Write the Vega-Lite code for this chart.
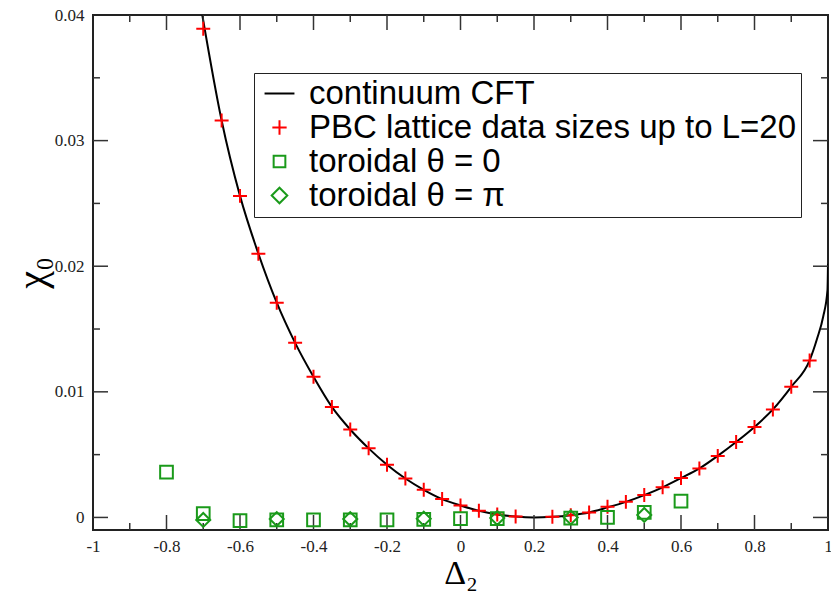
{
  "$schema": "https://vega.github.io/schema/vega-lite/v6.json",
  "width": 735,
  "height": 515,
  "autosize": {"type": "none"},
  "padding": {"left": 93, "top": 15, "right": 3, "bottom": 68},
  "background": "white",
  "config": {
    "view": {"stroke": "#222", "strokeWidth": 2},
    "axis": {
      "domain": false, "ticks": false, "grid": false,
      "labelFont": "Liberation Serif", "labelFontSize": 17, "labelColor": "#222",
      "titleFont": "Liberation Serif", "titleFontWeight": "normal", "titleColor": "#000",
      "labelFlush": false, "labelOverlap": false
    },
    "legend": {
      "orient": "none", "legendX": 161, "legendY": 58,
      "strokeColor": "#222", "fillColor": "white", "padding": 4,
      "labelFont": "Liberation Sans", "labelFontSize": 33, "labelColor": "#000",
      "symbolSize": 676, "symbolStrokeWidth": 2, "rowPadding": -3, "labelOffset": 13,
      "symbolOffset": 5, "labelLimit": 0
    }
  },
  "datasets": {
    "xmajor": [{"v": -0.8}, {"v": -0.6}, {"v": -0.4}, {"v": -0.2}, {"v": 0}, {"v": 0.2}, {"v": 0.4}, {"v": 0.6}, {"v": 0.8}],
    "xminor": [{"v": -0.9}, {"v": -0.7}, {"v": -0.5}, {"v": -0.3}, {"v": -0.1}, {"v": 0.1}, {"v": 0.3}, {"v": 0.5}, {"v": 0.7}, {"v": 0.9}],
    "ymajor": [{"v": 0}, {"v": 0.01}, {"v": 0.02}, {"v": 0.03}],
    "yminor": [{"v": 0.005}, {"v": 0.015}, {"v": 0.025}, {"v": 0.035}],
    "curve": [
      {"d": -0.7026, "chi": 0.0400}, {"d": -0.65, "chi": 0.0316},
      {"d": -0.60, "chi": 0.0256}, {"d": -0.55, "chi": 0.0210}, {"d": -0.50, "chi": 0.0171},
      {"d": -0.45, "chi": 0.0139}, {"d": -0.40, "chi": 0.0112}, {"d": -0.35, "chi": 0.0088},
      {"d": -0.30, "chi": 0.0070}, {"d": -0.25, "chi": 0.0055}, {"d": -0.20, "chi": 0.0042},
      {"d": -0.15, "chi": 0.0031}, {"d": -0.10, "chi": 0.0022}, {"d": -0.05, "chi": 0.00146},
      {"d": 0.00, "chi": 0.00095}, {"d": 0.05, "chi": 0.00053}, {"d": 0.10, "chi": 0.00024},
      {"d": 0.15, "chi": 0.00007}, {"d": 0.20, "chi": 0.0}, {"d": 0.25, "chi": 0.00005},
      {"d": 0.30, "chi": 0.00018}, {"d": 0.35, "chi": 0.00040}, {"d": 0.40, "chi": 0.00080},
      {"d": 0.45, "chi": 0.00124}, {"d": 0.50, "chi": 0.00178}, {"d": 0.55, "chi": 0.00240},
      {"d": 0.60, "chi": 0.00313}, {"d": 0.65, "chi": 0.0039}, {"d": 0.70, "chi": 0.0049},
      {"d": 0.75, "chi": 0.0060}, {"d": 0.80, "chi": 0.0072}, {"d": 0.85, "chi": 0.0086},
      {"d": 0.90, "chi": 0.0104}, {"d": 0.95, "chi": 0.0125}, {"d": 0.97, "chi": 0.0142},
      {"d": 0.987, "chi": 0.0160}, {"d": 0.9986, "chi": 0.0181}, {"d": 1.0, "chi": 0.0202}
    ],
    "lattice": [
      {"d": -0.70, "chi": 0.0389}, {"d": -0.65, "chi": 0.0316}, {"d": -0.60, "chi": 0.0256},
      {"d": -0.55, "chi": 0.0210}, {"d": -0.50, "chi": 0.0171}, {"d": -0.45, "chi": 0.0139},
      {"d": -0.40, "chi": 0.0112}, {"d": -0.35, "chi": 0.0088}, {"d": -0.30, "chi": 0.0070},
      {"d": -0.25, "chi": 0.0055}, {"d": -0.20, "chi": 0.0042}, {"d": -0.15, "chi": 0.0031},
      {"d": -0.10, "chi": 0.0022}, {"d": -0.05, "chi": 0.00146}, {"d": 0.00, "chi": 0.00095},
      {"d": 0.05, "chi": 0.00053}, {"d": 0.10, "chi": 0.00024}, {"d": 0.15, "chi": 0.00007},
      {"d": 0.25, "chi": 0.00005}, {"d": 0.30, "chi": 0.00018}, {"d": 0.35, "chi": 0.00040},
      {"d": 0.40, "chi": 0.00085}, {"d": 0.45, "chi": 0.00124}, {"d": 0.50, "chi": 0.00178},
      {"d": 0.55, "chi": 0.00240}, {"d": 0.60, "chi": 0.00313}, {"d": 0.65, "chi": 0.0039},
      {"d": 0.70, "chi": 0.0049}, {"d": 0.75, "chi": 0.0060}, {"d": 0.80, "chi": 0.0072},
      {"d": 0.85, "chi": 0.0086}, {"d": 0.90, "chi": 0.0104}, {"d": 0.95, "chi": 0.0125}
    ],
    "tor0": [
      {"d": -0.8, "chi": 0.0036}, {"d": -0.7, "chi": 0.0003}, {"d": -0.6, "chi": -0.00025},
      {"d": -0.5, "chi": -0.0002}, {"d": -0.4, "chi": -0.0002}, {"d": -0.3, "chi": -0.0002},
      {"d": -0.2, "chi": -0.0002}, {"d": -0.1, "chi": -0.00015}, {"d": 0.0, "chi": -0.0001},
      {"d": 0.1, "chi": -0.0001}, {"d": 0.3, "chi": -0.00005}, {"d": 0.4, "chi": 0.0},
      {"d": 0.5, "chi": 0.0004}, {"d": 0.6, "chi": 0.0013}
    ],
    "torpi": [
      {"d": -0.7, "chi": -0.0002}, {"d": -0.5, "chi": -0.00013}, {"d": -0.3, "chi": -0.00013},
      {"d": -0.1, "chi": -0.0001}, {"d": 0.1, "chi": -0.00005}, {"d": 0.3, "chi": 0.0},
      {"d": 0.5, "chi": 0.0002}
    ]
  },
  "layer": [
    {
      "data": {"name": "curve"},
      "transform": [{"calculate": "'continuum CFT'", "as": "series"}],
      "mark": {"type": "line", "strokeWidth": 2, "interpolate": "monotone", "clip": true},
      "encoding": {
        "x": {"field": "d", "type": "quantitative",
              "scale": {"domain": [-1, 1], "nice": false, "zero": false},
              "axis": {"orient": "bottom", "labelPadding": 8,
                       "values": [-1, -0.8, -0.6, -0.4, -0.2, 0, 0.2, 0.4, 0.6, 0.8, 1],
                       "labelExpr": "'' + datum.value",
                       "title": "Δ₂", "titleFontSize": 34, "titlePadding": 2}},
        "y": {"field": "chi", "type": "quantitative",
              "scale": {"domain": [-0.001, 0.04], "nice": false, "zero": false},
              "axis": {"orient": "left", "labelPadding": 9,
                       "values": [0, 0.01, 0.02, 0.03, 0.04],
                       "labelExpr": "'' + datum.value",
                       "title": "χ₀", "titleFontSize": 40, "titlePadding": 2}},
        "color": {"field": "series", "type": "nominal",
                  "scale": {"domain": ["continuum CFT", "PBC lattice data sizes up to L=20", "toroidal θ = 0", "toroidal θ = π"],
                            "range": ["#000000", "#ff0000", "#1a9a1a", "#1a9a1a"]},
                  "legend": {"title": null}}
      }
    },
    {
      "data": {"name": "xmajor"},
      "mark": {"type": "point", "shape": "M-0.1,-2H0.1V0H-0.1Z", "filled": true, "strokeWidth": 0, "color": "#333", "opacity": 1, "size": 225},
      "encoding": {
        "x": {"field": "v", "type": "quantitative", "axis": {"orient": "bottom", "labels": false, "title": null, "values": [0]}},
        "y": {"datum": -0.001, "type": "quantitative", "axis": {"orient": "left", "labels": false, "title": null, "values": [0]}}
      }
    },
    {
      "data": {"name": "xminor"},
      "mark": {"type": "point", "shape": "M-0.1,-0.93H0.1V0H-0.1Z", "filled": true, "strokeWidth": 0, "color": "#333", "opacity": 1, "size": 225},
      "encoding": {
        "x": {"field": "v", "type": "quantitative", "axis": {"orient": "bottom", "labels": false, "title": null, "values": [0]}},
        "y": {"datum": -0.001, "type": "quantitative", "axis": {"orient": "left", "labels": false, "title": null, "values": [0]}}
      }
    },
    {
      "data": {"name": "xmajor"},
      "mark": {"type": "point", "shape": "M-0.1,0H0.1V2H-0.1Z", "filled": true, "strokeWidth": 0, "color": "#333", "opacity": 1, "size": 225},
      "encoding": {
        "x": {"field": "v", "type": "quantitative", "axis": {"orient": "top", "labels": false, "title": null, "values": [0]}},
        "y": {"datum": 0.04, "type": "quantitative", "axis": {"orient": "right", "labels": false, "title": null, "values": [0]}}
      }
    },
    {
      "data": {"name": "xminor"},
      "mark": {"type": "point", "shape": "M-0.1,0H0.1V0.93H-0.1Z", "filled": true, "strokeWidth": 0, "color": "#333", "opacity": 1, "size": 225},
      "encoding": {
        "x": {"field": "v", "type": "quantitative", "axis": {"orient": "top", "labels": false, "title": null, "values": [0]}},
        "y": {"datum": 0.04, "type": "quantitative", "axis": {"orient": "right", "labels": false, "title": null, "values": [0]}}
      }
    },
    {
      "data": {"name": "ymajor"},
      "mark": {"type": "point", "shape": "M0,-0.1H2V0.1H0Z", "filled": true, "strokeWidth": 0, "color": "#333", "opacity": 1, "size": 225},
      "encoding": {
        "y": {"field": "v", "type": "quantitative", "axis": {"orient": "left", "labels": false, "title": null, "values": [0]}},
        "x": {"datum": -1, "type": "quantitative", "axis": {"orient": "bottom", "labels": false, "title": null, "values": [0]}}
      }
    },
    {
      "data": {"name": "yminor"},
      "mark": {"type": "point", "shape": "M0,-0.1H0.93V0.1H0Z", "filled": true, "strokeWidth": 0, "color": "#333", "opacity": 1, "size": 225},
      "encoding": {
        "y": {"field": "v", "type": "quantitative", "axis": {"orient": "left", "labels": false, "title": null, "values": [0]}},
        "x": {"datum": -1, "type": "quantitative", "axis": {"orient": "bottom", "labels": false, "title": null, "values": [0]}}
      }
    },
    {
      "data": {"name": "ymajor"},
      "mark": {"type": "point", "shape": "M-2,-0.1H0V0.1H-2Z", "filled": true, "strokeWidth": 0, "color": "#333", "opacity": 1, "size": 225},
      "encoding": {
        "y": {"field": "v", "type": "quantitative", "axis": {"orient": "right", "labels": false, "title": null, "values": [0]}},
        "x": {"datum": 1, "type": "quantitative", "axis": {"orient": "top", "labels": false, "title": null, "values": [0]}}
      }
    },
    {
      "data": {"name": "yminor"},
      "mark": {"type": "point", "shape": "M-0.93,-0.1H0V0.1H-0.93Z", "filled": true, "strokeWidth": 0, "color": "#333", "opacity": 1, "size": 225},
      "encoding": {
        "y": {"field": "v", "type": "quantitative", "axis": {"orient": "right", "labels": false, "title": null, "values": [0]}},
        "x": {"datum": 1, "type": "quantitative", "axis": {"orient": "top", "labels": false, "title": null, "values": [0]}}
      }
    },
    {
      "data": {"name": "lattice"},
      "transform": [{"calculate": "'PBC lattice data sizes up to L=20'", "as": "series"}],
      "mark": {"type": "point", "filled": false, "strokeWidth": 2, "size": 645, "opacity": 1},
      "encoding": {
        "x": {"field": "d", "type": "quantitative",
              "axis": {"orient": "top", "labels": false, "title": null, "values": [0]}},
        "y": {"field": "chi", "type": "quantitative",
              "axis": {"orient": "right", "labels": false, "title": null, "values": [0]}},
        "color": {"field": "series", "type": "nominal", "legend": {"title": null}},
        "shape": {"field": "series", "type": "nominal",
                  "scale": {"domain": ["continuum CFT", "PBC lattice data sizes up to L=20", "toroidal θ = 0", "toroidal θ = π"],
                            "range": ["M-1.15,0H1.15", "M-0.55,0H0.55M0,-0.55V0.55", "M-0.45,-0.45H0.45V0.45H-0.45Z", "M-0.6,0L0,-0.6L0.6,0L0,0.6Z"]},
                  "legend": {"title": null}}
      }
    },
    {
      "data": {"name": "tor0"},
      "transform": [{"calculate": "'toroidal θ = 0'", "as": "series"}],
      "mark": {"type": "point", "filled": false, "strokeWidth": 2, "size": 796, "opacity": 1},
      "encoding": {
        "x": {"field": "d", "type": "quantitative",
              "axis": {"orient": "bottom", "labels": false, "title": null, "values": [0]}},
        "y": {"field": "chi", "type": "quantitative",
              "axis": {"orient": "left", "labels": false, "title": null, "values": [0]}},
        "color": {"field": "series", "type": "nominal", "legend": {"title": null}},
        "shape": {"field": "series", "type": "nominal", "legend": {"title": null}}
      }
    },
    {
      "data": {"name": "torpi"},
      "transform": [{"calculate": "'toroidal θ = π'", "as": "series"}],
      "mark": {"type": "point", "filled": false, "strokeWidth": 2, "size": 544, "opacity": 1},
      "encoding": {
        "x": {"field": "d", "type": "quantitative",
              "axis": {"orient": "top", "labels": false, "title": null, "values": [0]}},
        "y": {"field": "chi", "type": "quantitative",
              "axis": {"orient": "right", "labels": false, "title": null, "values": [0]}},
        "color": {"field": "series", "type": "nominal", "legend": {"title": null}},
        "shape": {"field": "series", "type": "nominal", "legend": {"title": null}}
      }
    }
  ],
  "resolve": {"axis": {"x": "independent", "y": "independent"}}
}
